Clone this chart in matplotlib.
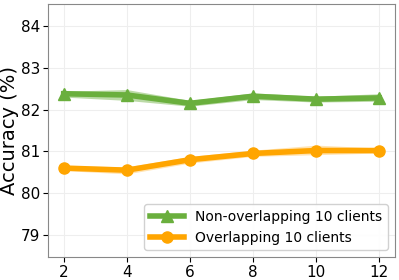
import matplotlib
matplotlib.use("Agg")
import matplotlib.pyplot as plt
import numpy as np

x = [2, 4, 6, 8, 10, 12]
non_overlap = [82.38, 82.35, 82.15, 82.32, 82.25, 82.28]
non_overlap_lo = [82.30, 82.22, 82.08, 82.24, 82.18, 82.20]
non_overlap_hi = [82.44, 82.48, 82.22, 82.40, 82.32, 82.38]
overlap = [80.60, 80.55, 80.80, 80.95, 81.02, 81.02]
overlap_lo = [80.54, 80.46, 80.72, 80.88, 80.92, 80.96]
overlap_hi = [80.66, 80.63, 80.88, 81.03, 81.15, 81.08]

green = '#6aaf3d'
orange = '#ffa500'

fig, ax = plt.subplots(figsize=(3.99, 2.8), dpi=100)
ax.fill_between(x, non_overlap_lo, non_overlap_hi, color=green, alpha=0.45, lw=0)
ax.plot(x, non_overlap, color=green, marker='^', ms=8, lw=4, label='Non-overlapping 10 clients')
ax.fill_between(x, overlap_lo, overlap_hi, color=orange, alpha=0.3, lw=0)
ax.plot(x, overlap, color=orange, marker='o', ms=8, lw=4, label='Overlapping 10 clients')

ax.set_xlim(1.5, 12.5)
ax.set_ylim(78.47, 84.53)
ax.set_xticks(x)
ax.set_yticks([79, 80, 81, 82, 83, 84])
ax.tick_params(labelsize=11, pad=2)
ax.set_ylabel('Accuracy (%)', fontsize=14, labelpad=1)
ax.grid(True, color='#eeeeee', lw=0.8)
for s in ax.spines.values():
    s.set_color('#888888')
ax.legend(loc='lower right', fontsize=10, framealpha=0.9, handlelength=2.5)
fig.subplots_adjust(left=0.12, right=0.99, top=0.986, bottom=0.082)
fig.savefig('out.png', dpi=100)
